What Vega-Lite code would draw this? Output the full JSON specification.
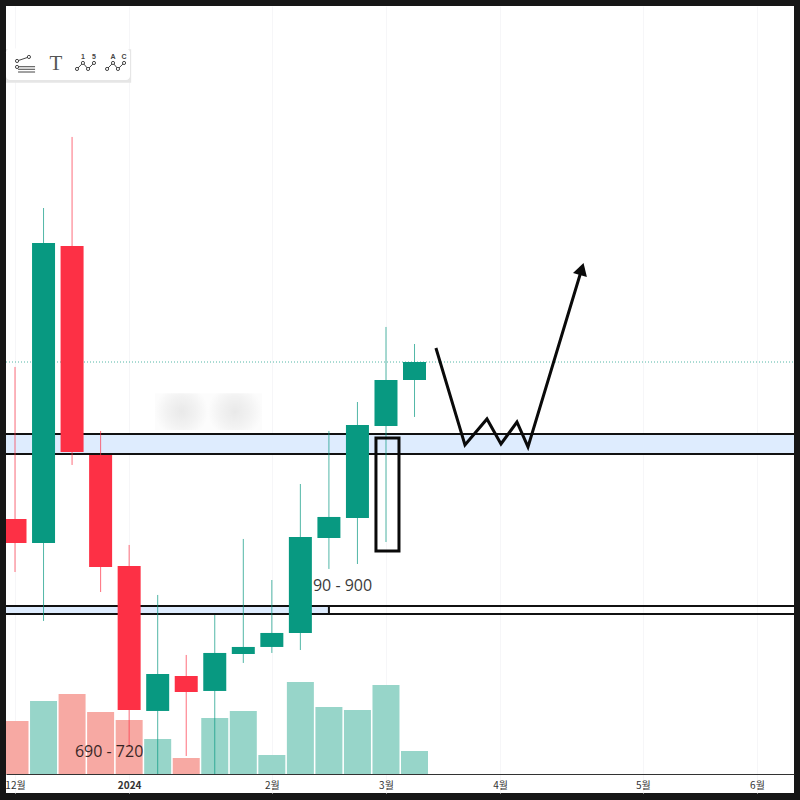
{
"$schema":"https://vega.github.io/schema/vega-lite/v6.json",
"width":788,"height":787,
"autosize":{"type":"none"},
"padding":{"left":6,"top":6,"right":6,"bottom":7},
"background":"#161616",
"config":{"view":{"fill":"#ffffff","stroke":null}},
"datasets":{
"candles":[
{"date":"2023-12-04T00:00:00Z","open":1008.8,"close":978.8,"high":1198.8,"low":942.5,"direction":"down"},
{"date":"2023-12-11T00:00:00Z","open":978.8,"close":1353.8,"high":1397.5,"low":881.3,"direction":"up"},
{"date":"2023-12-18T00:00:00Z","open":1350,"close":1092.5,"high":1486.3,"low":1076.3,"direction":"down"},
{"date":"2023-12-25T00:00:00Z","open":1088.8,"close":948.8,"high":1118.8,"low":917.5,"direction":"down"},
{"date":"2024-01-01T00:00:00Z","open":950,"close":770,"high":976.3,"low":723.8,"direction":"down"},
{"date":"2024-01-08T00:00:00Z","open":768.8,"close":815,"high":913.8,"low":690,"direction":"up"},
{"date":"2024-01-15T00:00:00Z","open":812.5,"close":792.5,"high":838.8,"low":712.5,"direction":"down"},
{"date":"2024-01-22T00:00:00Z","open":793.8,"close":841.3,"high":888.8,"low":690,"direction":"up"},
{"date":"2024-01-29T00:00:00Z","open":840,"close":848.8,"high":983.8,"low":828.8,"direction":"up"},
{"date":"2024-02-05T00:00:00Z","open":848.8,"close":866.3,"high":932.5,"low":841.3,"direction":"up"},
{"date":"2024-02-12T00:00:00Z","open":866.3,"close":986.3,"high":1052.5,"low":845,"direction":"up"},
{"date":"2024-02-19T00:00:00Z","open":985,"close":1011.3,"high":1118.8,"low":946.3,"direction":"up"},
{"date":"2024-02-26T00:00:00Z","open":1010,"close":1126.3,"high":1155,"low":952.5,"direction":"up"},
{"date":"2024-03-04T00:00:00Z","open":1125,"close":1182.5,"high":1248.8,"low":980,"direction":"up"},
{"date":"2024-03-11T00:00:00Z","open":1182.5,"close":1205,"high":1227.5,"low":1136.3,"direction":"up"}
],
"volume":[
{"date":"2023-12-04T00:00:00Z","volume":53,"side":"down"},
{"date":"2023-12-11T00:00:00Z","volume":73,"side":"up"},
{"date":"2023-12-18T00:00:00Z","volume":80,"side":"down"},
{"date":"2023-12-25T00:00:00Z","volume":62,"side":"down"},
{"date":"2024-01-01T00:00:00Z","volume":54,"side":"down"},
{"date":"2024-01-08T00:00:00Z","volume":35,"side":"up"},
{"date":"2024-01-15T00:00:00Z","volume":16,"side":"down"},
{"date":"2024-01-22T00:00:00Z","volume":56,"side":"up"},
{"date":"2024-01-29T00:00:00Z","volume":63,"side":"up"},
{"date":"2024-02-05T00:00:00Z","volume":19,"side":"up"},
{"date":"2024-02-12T00:00:00Z","volume":92,"side":"up"},
{"date":"2024-02-19T00:00:00Z","volume":67,"side":"up"},
{"date":"2024-02-26T00:00:00Z","volume":64,"side":"up"},
{"date":"2024-03-04T00:00:00Z","volume":89,"side":"up"},
{"date":"2024-03-11T00:00:00Z","volume":23,"side":"up"}
],
"zones":[
{"date":"2023-12-01T19:00:00Z","date2":"2024-06-12T02:00:00Z","low":1090,"high":1115},
{"date":"2023-12-01T19:00:00Z","date2":"2024-02-19T00:00:00Z","low":890,"high":900}
],
"levels":[
{"date":"2023-12-01T19:00:00Z","date2":"2024-06-12T02:00:00Z","price":1115},
{"date":"2023-12-01T19:00:00Z","date2":"2024-06-12T02:00:00Z","price":1090},
{"date":"2023-12-01T19:00:00Z","date2":"2024-06-12T02:00:00Z","price":900},
{"date":"2023-12-01T19:00:00Z","date2":"2024-06-12T02:00:00Z","price":890}
],
"path":[
{"date":"2024-03-16T06:00:00Z","price":1222.5},
{"date":"2024-03-23T09:00:00Z","price":1101.3},
{"date":"2024-03-28T18:30:00Z","price":1133.8},
{"date":"2024-04-01T05:00:00Z","price":1102.5},
{"date":"2024-04-05T03:00:00Z","price":1130},
{"date":"2024-04-07T20:00:00Z","price":1098.8},
{"date":"2024-04-21T00:30:00Z","price":1321.3}
],
"iconLines":[
{"icon":"a","date":"2023-12-04T12:00:00Z","price":1581.3},
{"icon":"a","date":"2023-12-07T10:00:00Z","price":1586.3},
{"icon":"b","date":"2023-12-04T18:00:00Z","price":1574.1},
{"icon":"b","date":"2023-12-08T22:00:00Z","price":1574.1},
{"icon":"c","date":"2023-12-04T18:00:00Z","price":1570.9},
{"icon":"c","date":"2023-12-08T22:00:00Z","price":1570.9},
{"icon":"d","date":"2023-12-04T18:00:00Z","price":1567.5},
{"icon":"d","date":"2023-12-08T22:00:00Z","price":1567.5},
{"icon":"e","date":"2023-12-19T05:00:00Z","price":1571.3},
{"icon":"e","date":"2023-12-20T16:00:00Z","price":1578.8},
{"icon":"e","date":"2023-12-21T22:00:00Z","price":1571.3},
{"icon":"e","date":"2023-12-23T09:00:00Z","price":1578.8},
{"icon":"f","date":"2023-12-26T14:00:00Z","price":1571.3},
{"icon":"f","date":"2023-12-28T01:00:00Z","price":1578.8},
{"icon":"f","date":"2023-12-29T06:00:00Z","price":1571.3},
{"icon":"f","date":"2023-12-30T18:00:00Z","price":1578.8}
],
"iconDots":[
{"date":"2023-12-04T12:00:00Z","price":1581.3},
{"date":"2023-12-07T10:00:00Z","price":1586.3},
{"date":"2023-12-04T12:00:00Z","price":1573.8},
{"date":"2023-12-19T05:00:00Z","price":1571.3},
{"date":"2023-12-20T16:00:00Z","price":1578.8},
{"date":"2023-12-21T22:00:00Z","price":1571.3},
{"date":"2023-12-23T09:00:00Z","price":1578.8},
{"date":"2023-12-26T14:00:00Z","price":1571.3},
{"date":"2023-12-28T01:00:00Z","price":1578.8},
{"date":"2023-12-29T06:00:00Z","price":1571.3},
{"date":"2023-12-30T18:00:00Z","price":1578.8}
],
"iconLabels":[
{"date":"2023-12-20T16:00:00Z","price":1586.3,"label":"1"},
{"date":"2023-12-23T09:00:00Z","price":1586.3,"label":"5"},
{"date":"2023-12-28T01:00:00Z","price":1586.3,"label":"A"},
{"date":"2023-12-30T18:00:00Z","price":1586.3,"label":"C"}
]
},
"encoding":{
"x":{"field":"date","type":"temporal","title":null,
"scale":{"type":"utc","nice":false,"padding":0,"domain":[{"year":2023,"month":12,"date":1,"hours":19,"utc":true},{"year":2024,"month":6,"date":12,"hours":2,"utc":true}]},
"axis":{"offset":-19,"grid":true,"gridColor":"#f6f6f8","gridWidth":1,"domainColor":"#333333","domainWidth":1,"ticks":false,"labelPadding":6,"labelFontSize":10,"labelColor":"#333333","labelFont":"Noto Sans CJK KR","labelFlush":false,"labelBound":false,"labelOverlap":false,
"labelFontWeight":{"condition":{"test":"utcmonth(datum.value)==0","value":"bold"},"value":"normal"},
"values":[{"year":2023,"month":12,"date":4,"utc":true},{"year":2024,"month":1,"date":1,"utc":true},{"year":2024,"month":2,"date":5,"utc":true},{"year":2024,"month":3,"date":4,"utc":true},{"year":2024,"month":4,"date":1,"utc":true},{"year":2024,"month":5,"date":6,"utc":true},{"year":2024,"month":6,"date":3,"utc":true}],
"labelExpr":"utcmonth(datum.value)==0 ? '2024' : (utcmonth(datum.value)+1)+'월'"}}
},
"resolve":{"scale":{"y":"independent","color":"independent"}},
"layer":[
{"layer":[
{"data":{"name":"zones"},"mark":{"type":"rect","fill":"#deecfe"},
"encoding":{"x2":{"field":"date2"},"y":{"field":"low","type":"quantitative","scale":{"domain":[666.25,1650],"nice":false,"zero":false},
"axis":{"grid":true,"gridColor":"#f6f6f8","domain":false,"ticks":false,"labels":false,"title":null,"values":[1634,1595,1554,1511,1457,1407,1356,1289,1246,1195,1145,1045,945,845,780,750,720]}},"y2":{"field":"high"}}},
{"data":{"values":[{"date":"2024-01-07T08:00:00Z","date2":"2024-01-20T08:00:00Z","low":1120,"high":1166},{"date":"2024-01-20T08:00:00Z","date2":"2024-02-02T14:00:00Z","low":1120,"high":1166}]},
"mark":{"type":"rect","fill":{"gradient":"radial","stops":[{"offset":0,"color":"#e9e9e9"},{"offset":0.55,"color":"#f2f2f2"},{"offset":1,"color":"#fcfcfc"}]}},
"encoding":{"x2":{"field":"date2"},"y":{"field":"low","type":"quantitative","scale":{"domain":[666.25,1650],"nice":false,"zero":false},"axis":null},"y2":{"field":"high"}}}
]},
{"data":{"name":"volume"},"mark":{"type":"bar","size":27,"clip":true},
"encoding":{"y":{"field":"volume","type":"quantitative","scale":{"domain":[-19,768],"nice":false,"zero":false},"axis":null},
"y2":{"datum":0},
"color":{"field":"side","type":"nominal","legend":null,"scale":{"domain":["up","down"],"range":["#97d5c9","#f7a9a3"]}}}},
{"layer":[
{"data":{"name":"levels"},"mark":{"type":"rule","stroke":"#111111","strokeWidth":2},
"encoding":{"x2":{"field":"date2"},"y":{"field":"price","type":"quantitative","scale":{"domain":[666.25,1650],"nice":false,"zero":false},"axis":null}}},
{"data":{"values":[{"date":"2024-02-19T00:00:00Z","low":890,"high":900}]},"mark":{"type":"rule","stroke":"#111111","strokeWidth":2},
"encoding":{"y":{"field":"low","type":"quantitative","scale":{"domain":[666.25,1650],"nice":false,"zero":false},"axis":null},"y2":{"field":"high"}}},
{"data":{"values":[{"date":"2023-12-01T19:00:00Z","date2":"2024-06-12T02:00:00Z","price":1205}]},"mark":{"type":"rule","stroke":"#089981","strokeWidth":1,"strokeDash":[1,2],"opacity":0.7},
"encoding":{"x2":{"field":"date2"},"y":{"field":"price","type":"quantitative","scale":{"domain":[666.25,1650],"nice":false,"zero":false},"axis":null}}},
{"data":{"name":"candles"},"mark":{"type":"rule","strokeWidth":1,"opacity":0.7,"clip":true},
"encoding":{"y":{"field":"low","type":"quantitative","scale":{"domain":[666.25,1650],"nice":false,"zero":false},"axis":null},"y2":{"field":"high"},
"color":{"field":"direction","type":"nominal","legend":null,"scale":{"domain":["up","down"],"range":["#089981","#fd3045"]}}}},
{"data":{"name":"candles"},"mark":{"type":"bar","size":23,"clip":true},
"encoding":{"y":{"field":"open","type":"quantitative","scale":{"domain":[666.25,1650],"nice":false,"zero":false},"axis":null},"y2":{"field":"close"},
"color":{"field":"direction","type":"nominal","legend":null,"scale":{"domain":["up","down"],"range":["#089981","#fd3045"]}}}},
{"data":{"values":[{"date":"2024-03-01T13:00:00Z","date2":"2024-03-07T04:30:00Z","low":968.8,"high":1110}]},"mark":{"type":"rect","fill":null,"stroke":"#0a0a0a","strokeWidth":3},
"encoding":{"x2":{"field":"date2"},"y":{"field":"low","type":"quantitative","scale":{"domain":[666.25,1650],"nice":false,"zero":false},"axis":null},"y2":{"field":"high"}}},
{"data":{"name":"path"},"mark":{"type":"line","stroke":"#0a0a0a","strokeWidth":3,"strokeJoin":"miter"},
"encoding":{"y":{"field":"price","type":"quantitative","scale":{"domain":[666.25,1650],"nice":false,"zero":false},"axis":null}}},
{"data":{"values":[{"date":"2024-04-21T00:30:00Z","price":1321.3,"heading":16.6}]},"mark":{"type":"point","shape":"triangle-up","filled":true,"fill":"#0a0a0a","opacity":1,"size":210},
"encoding":{"y":{"field":"price","type":"quantitative","scale":{"domain":[666.25,1650],"nice":false,"zero":false},"axis":null},"angle":{"field":"heading","type":"quantitative","scale":null}}},
{"data":{"values":[{"date":"2024-02-15T02:00:00Z","price":925,"label":"90 - 900"},{"date":"2023-12-18T17:00:00Z","price":717.5,"label":"690 - 720"}]},"mark":{"type":"text","align":"left","baseline":"middle","font":"Open Sans","fontSize":16,"fontWeight":500,"color":"#000000","opacity":0.78},
"encoding":{"y":{"field":"price","type":"quantitative","scale":{"domain":[666.25,1650],"nice":false,"zero":false},"axis":null},"text":{"field":"label","type":"nominal"}}},
{"data":{"values":[{"date":"2023-12-01T19:00:00Z","date2":"2024-01-01T12:00:00Z","low":1554,"high":1596}]},"mark":{"type":"rect","fill":"#e6e6e6"},
"encoding":{"x2":{"field":"date2"},"y":{"field":"low","type":"quantitative","scale":{"domain":[666.25,1650],"nice":false,"zero":false},"axis":null},"y2":{"field":"high"}}},
{"data":{"values":[{"date":"2023-12-01T19:00:00Z","date2":"2024-01-01T05:00:00Z","low":1557.5,"high":1597}]},"mark":{"type":"rect","fill":"#ffffff","cornerRadius":4},
"encoding":{"x2":{"field":"date2"},"y":{"field":"low","type":"quantitative","scale":{"domain":[666.25,1650],"nice":false,"zero":false},"axis":null},"y2":{"field":"high"}}},
{"data":{"name":"iconLines"},"mark":{"type":"line","stroke":"#444444","strokeWidth":1},
"encoding":{"detail":{"field":"icon","type":"nominal"},"y":{"field":"price","type":"quantitative","scale":{"domain":[666.25,1650],"nice":false,"zero":false},"axis":null}}},
{"data":{"name":"iconDots"},"mark":{"type":"point","shape":"circle","size":10,"filled":true,"fill":"#ffffff","stroke":"#444444","strokeWidth":1,"opacity":1},
"encoding":{"y":{"field":"price","type":"quantitative","scale":{"domain":[666.25,1650],"nice":false,"zero":false},"axis":null}}},
{"data":{"name":"iconLabels"},"mark":{"type":"text","fontSize":7,"fontWeight":"bold","color":"#444444","font":"Liberation Sans","baseline":"middle"},
"encoding":{"y":{"field":"price","type":"quantitative","scale":{"domain":[666.25,1650],"nice":false,"zero":false},"axis":null},"text":{"field":"label","type":"nominal"}}},
{"data":{"values":[{"date":"2023-12-14T01:00:00Z","price":1577.5,"label":"T"}]},"mark":{"type":"text","fontSize":21,"color":"#555555","font":"Liberation Serif","baseline":"middle"},
"encoding":{"y":{"field":"price","type":"quantitative","scale":{"domain":[666.25,1650],"nice":false,"zero":false},"axis":null},"text":{"field":"label","type":"nominal"}}}
]}
]
}
